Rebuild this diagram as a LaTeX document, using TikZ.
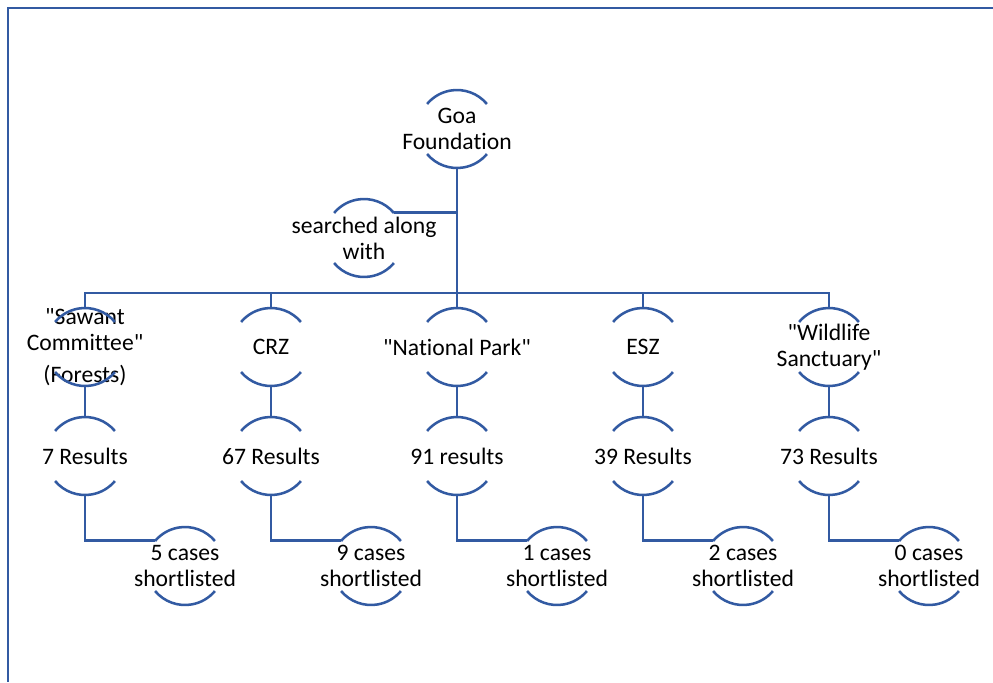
\documentclass[tikz,border=0pt]{standalone}
\usepackage{fontspec}
\setmainfont{Carlito}[Ligatures={TeXOff,CommonOff}]
\usepackage{tikz}
\usetikzlibrary{positioning, calc}

\definecolor{chartblue}{RGB}{50,90,162}

\begin{document}
\begin{tikzpicture}[
    hnode/.style={circle, minimum size=1.95cm, inner sep=0pt, outer sep=0pt, label={center:#1}},
    every label/.style={font=\fontsize{16.8}{18.5}\selectfont, align=center, text=black},
    ring/.style={draw=chartblue, line width=1.8pt},
    link/.style={draw=chartblue, line width=2.1pt},
]
\useasboundingbox (0,0) rectangle (24.825,-17.05);
\draw[draw=chartblue, line width=1.5pt] (24.825,-0.2) -- (0.2,-0.2) -- (0.2,-17.05);
% top and assistant
\node[hnode={Goa\\Foundation}] (goa) at (11.425,-3.225) {};
\node[hnode={searched along\\with}] (srch) at (9.1,-5.95) {};
\coordinate (bar) at (11.425,-7.325);
% search terms
\node[hnode={{"Sawant\\Committee"\\[4pt](Forests)}}] (saw) at (2.125,-8.675) {};
\node[hnode={CRZ}] (crz) at (6.775,-8.675) {};
\node[hnode={"National Park"}] (np) at (11.425,-8.675) {};
\node[hnode={ESZ}] (esz) at (16.075,-8.675) {};
\node[hnode={"Wildlife\\Sanctuary"}] (wls) at (20.725,-8.675) {};
% results
\node[hnode={7 Results}] (r7) at (2.125,-11.4) {};
\node[hnode={67 Results}] (r67) at (6.775,-11.4) {};
\node[hnode={91 results}] (r91) at (11.425,-11.4) {};
\node[hnode={39 Results}] (r39) at (16.075,-11.4) {};
\node[hnode={73 Results}] (r73) at (20.725,-11.4) {};
% shortlisted
\node[hnode={5 cases\\shortlisted}] (c5) at (4.625,-14.15) {};
\node[hnode={9 cases\\shortlisted}] (c9) at (9.275,-14.15) {};
\node[hnode={1 cases\\shortlisted}] (c1) at (13.925,-14.15) {};
\node[hnode={2 cases\\shortlisted}] (c2) at (18.575,-14.15) {};
\node[hnode={0 cases\\shortlisted}] (c0) at (23.225,-14.15) {};
% half rings
\foreach \n in {goa,srch,saw,crz,np,esz,wls,r7,r67,r91,r39,r73,c5,c9,c1,c2,c0}
    \draw[ring] (\n.40) arc[start angle=40, end angle=140, radius=0.975]
                (\n.-140) arc[start angle=-140, end angle=-40, radius=0.975];
% connectors
\draw[link] (goa.south) -- (bar);
\draw[link] (srch.40) -- (srch.40 -| goa.south);
\foreach \t/\r/\c in {saw/r7/c5, crz/r67/c9, np/r91/c1, esz/r39/c2, wls/r73/c0} {
    \draw[link] (bar) -| (\t.north);
    \draw[link] (\t.south) -- (\r.north);
    \draw[link] (\r.south) |- (\c.140);
}
\end{tikzpicture}
\end{document}
